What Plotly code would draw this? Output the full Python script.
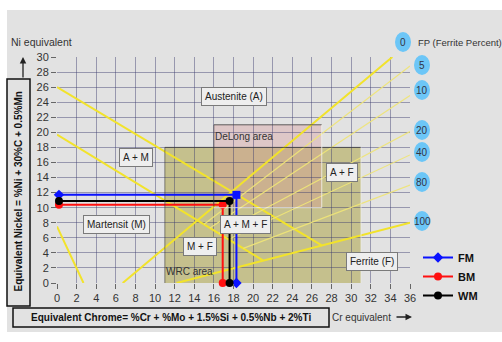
import plotly.graph_objects as go

# ---------------- data ----------------
x_ticks = list(range(0, 37, 2))
y_ticks = list(range(0, 31, 2))

# iso-ferrite lines (FP %)
fp_labels = ["0", "5", "10", "20", "40", "80", "100"]
fp_x0 = [6.7, 15.0, 15.6, 16.5, 17.5, 19.0, 12.2]
fp_y0 = [0.0, 7.8, 7.3, 6.6, 5.8, 4.6, 0.0]
fp_x1 = [34.2, 36.0, 36.0, 36.0, 36.0, 36.0, 36.0]
fp_y1 = [30.0, 28.8, 24.9, 20.1, 17.0, 13.0, 8.0]
fp_label_py = [42, 65, 90, 130, 152, 182, 221]   # label centres (pixels)

# phase boundary lines
b1_x = [0, 27.0]; b1_y = [26.0, 5.0]
b2_x = [0, 21.0]; b2_y = [19.7, 3.0]
b3_x = [0, 2.7];  b3_y = [7.5, 0.0]

# areas
wrc_x = [11, 31]; wrc_y = [0, 18]
delong_x = [16, 27]; delong_y = [10, 21]

# measured series
fm_x = [0.2, 18.3, 18.3]; fm_y = [11.7, 11.7, 0.0]
bm_x = [0.2, 16.9, 16.9]; bm_y = [10.4, 10.4, 0.0]
wm_x = [0.2, 17.6, 17.6]; wm_y = [10.9, 10.9, 0.0]

# region labels
region_text = ["Austenite (A)", "A + M", "A + F", "Martensit (M)", "M + F",
               "A + M + F", "F + M", "Ferrite (F)"]
region_x = [18.05, 8.06, 29.06, 6.07, 14.6, 19.2, -0.6, 32.1]
region_y = [24.8, 16.7, 14.7, 7.7, 4.8, 7.7, 1.7, 2.85]

# ---------------- layout helpers ----------------
L, R, T, B = 57, 92, 57, 59
W, H = 502, 342
PW, PH = W - L - R, H - T - B


def PX(px):
    return (px - L) / PW


def PY(py):
    return (H - B - py) / PH


FONT = "Liberation Sans, Arial, sans-serif"
YEL = "#f2e32b"
YEL_THIN = "rgba(238,228,120,0.95)"

fig = go.Figure()

# boundary lines
for bx, by, w in [(b1_x, b1_y, 2), (b2_x, b2_y, 2), (b3_x, b3_y, 2)]:
    fig.add_trace(go.Scatter(x=bx, y=by, mode="lines", line=dict(color=YEL, width=w),
                             showlegend=False, hoverinfo="skip"))

# ferrite lines
for i, lab in enumerate(fp_labels):
    thick = lab in ("0", "100")
    fig.add_trace(go.Scatter(x=[fp_x0[i], fp_x1[i]], y=[fp_y0[i], fp_y1[i]], mode="lines",
                             line=dict(color=YEL if thick else YEL_THIN, width=2 if thick else 1.2),
                             showlegend=False, hoverinfo="skip"))

# series
fig.add_trace(go.Scatter(x=fm_x, y=fm_y, mode="lines+markers", name="<b>FM</b>",
                         line=dict(color="#0a12ff", width=2),
                         marker=dict(symbol=["diamond", "square", "diamond"], size=8, color="#0a12ff"),
                         cliponaxis=False))
fig.add_trace(go.Scatter(x=bm_x, y=bm_y, mode="lines+markers", name="<b>BM</b>",
                         line=dict(color="#ff1010", width=2),
                         marker=dict(symbol="circle", size=8, color="#ff1010"),
                         cliponaxis=False))
fig.add_trace(go.Scatter(x=wm_x, y=wm_y, mode="lines+markers", name="<b>WM</b>",
                         line=dict(color="#000000", width=2),
                         marker=dict(symbol="circle", size=8, color="#000000"),
                         cliponaxis=False))

shapes = []
# background panel
shapes.append(dict(type="rect", xref="paper", yref="paper", x0=PX(7), x1=PX(502), y0=PY(332), y1=PY(10),
                   fillcolor="#e2e2e2", line=dict(width=0), layer="below"))
# WRC area
shapes.append(dict(type="rect", xref="x", yref="y", x0=wrc_x[0], x1=wrc_x[1], y0=wrc_y[0], y1=wrc_y[1],
                   fillcolor="rgba(180,172,92,0.64)", line=dict(width=0), layer="below"))
shapes.append(dict(type="line", xref="x", yref="y", x0=wrc_x[0], x1=wrc_x[1], y0=wrc_y[1], y1=wrc_y[1],
                   line=dict(color="rgba(60,60,60,0.8)", width=1)))
shapes.append(dict(type="line", xref="x", yref="y", x0=wrc_x[0], x1=wrc_x[0], y0=wrc_y[0], y1=wrc_y[1],
                   line=dict(color="rgba(60,60,60,0.6)", width=1)))
shapes.append(dict(type="line", xref="x", yref="y", x0=wrc_x[1], x1=wrc_x[1], y0=wrc_y[0], y1=wrc_y[1],
                   line=dict(color="rgba(240,240,230,0.7)", width=1)))
# DeLong area
shapes.append(dict(type="rect", xref="x", yref="y", x0=delong_x[0], x1=delong_x[1], y0=delong_y[0], y1=delong_y[1],
                   fillcolor="rgba(215,150,150,0.35)", line=dict(width=0), layer="below"))
shapes.append(dict(type="line", xref="x", yref="y", x0=delong_x[0], x1=delong_x[1], y0=delong_y[1], y1=delong_y[1],
                   line=dict(color="rgba(60,60,60,0.8)", width=1)))
shapes.append(dict(type="line", xref="x", yref="y", x0=delong_x[0], x1=delong_x[0], y0=delong_y[0], y1=delong_y[1],
                   line=dict(color="rgba(60,60,60,0.6)", width=1)))
shapes.append(dict(type="line", xref="x", yref="y", x0=delong_x[1], x1=delong_x[1], y0=delong_y[0], y1=delong_y[1],
                   line=dict(color="rgba(245,245,240,0.8)", width=1)))
shapes.append(dict(type="line", xref="x", yref="y", x0=delong_x[0], x1=delong_x[1], y0=delong_y[0], y1=delong_y[0],
                   line=dict(color="rgba(245,245,240,0.8)", width=1)))
# axis title boxes
shapes.append(dict(type="rect", xref="paper", yref="paper", x0=PX(7), x1=PX(30), y0=PY(306), y1=PY(79),
                   fillcolor="rgba(0,0,0,0)", line=dict(color="#111", width=1.5)))
shapes.append(dict(type="rect", xref="paper", yref="paper", x0=PX(13), x1=PX(329), y0=PY(327), y1=PY(308),
                   fillcolor="rgba(0,0,0,0)", line=dict(color="#111", width=1.5)))

annotations = []
# FP circles
cx_list = [403] + [422] * 6
for i, lab in enumerate(fp_labels):
    cx, cy = cx_list[i], fp_label_py[i]
    shapes.append(dict(type="circle", xref="paper", yref="paper",
                       x0=PX(cx - 8), x1=PX(cx + 8), y0=PY(cy + 10), y1=PY(cy - 10),
                       fillcolor="#6cc6f7", line=dict(width=0)))
    annotations.append(dict(xref="paper", yref="paper", x=PX(cx), y=PY(cy), text=lab, showarrow=False,
                            font=dict(family=FONT, size=10, color="#334"), xanchor="center", yanchor="middle"))

annotations.append(dict(xref="paper", yref="paper", x=PX(416), y=PY(42), text="FP (Ferrite Percent)",
                        showarrow=False, xanchor="left", yanchor="middle",
                        font=dict(family=FONT, size=9.5, color="#333")))
annotations.append(dict(xref="paper", yref="paper", x=PX(9), y=PY(42), text="Ni equivalent",
                        showarrow=False, xanchor="left", yanchor="middle",
                        font=dict(family=FONT, size=10.5, color="#333")))
annotations.append(dict(xref="paper", yref="paper", x=PX(330), y=PY(317), text="Cr equivalent",
                        showarrow=False, xanchor="left", yanchor="middle",
                        font=dict(family=FONT, size=10, color="#333")))
# arrows
annotations.append(dict(xref="paper", yref="paper", x=PX(412), y=PY(317), ax=-17, ay=0, text="",
                        showarrow=True, arrowhead=2, arrowwidth=1.3, arrowsize=1, arrowcolor="#222"))
annotations.append(dict(xref="paper", yref="paper", x=PX(23), y=PY(57), ax=0, ay=22, text="",
                        showarrow=True, arrowhead=2, arrowwidth=1.3, arrowsize=1, arrowcolor="#222"))
# axis titles (boxed)
annotations.append(dict(xref="paper", yref="paper", x=PX(18.5), y=PY(192),
                        text="<b>Equivalent Nickel = %Ni + 30%C + 0.5%Mn</b>", textangle=-90,
                        showarrow=False, xanchor="center", yanchor="middle",
                        font=dict(family=FONT, size=10, color="#111")))
annotations.append(dict(xref="paper", yref="paper", x=PX(171), y=PY(317.5),
                        text="<b>Equivalent Chrome= %Cr + %Mo + 1.5%Si + 0.5%Nb + 2%Ti</b>",
                        showarrow=False, xanchor="center", yanchor="middle",
                        font=dict(family=FONT, size=10, color="#111")))
# area labels
annotations.append(dict(x=13.5, y=1.5, text="WRC area", showarrow=False,
                        font=dict(family=FONT, size=10, color="#333")))
annotations.append(dict(x=19.1, y=19.4, text="DeLong area", showarrow=False,
                        font=dict(family=FONT, size=10, color="#333")))
# region boxes
for t, xx, yy in zip(region_text, region_x, region_y):
    annotations.append(dict(x=xx, y=yy, text=t, showarrow=False,
                            bgcolor="#eeeeee", bordercolor="#7a7a7a", borderwidth=1, borderpad=3,
                            font=dict(family=FONT, size=10, color="#222")))

fig.update_layout(
    width=W, height=H,
    margin=dict(l=L, r=R, t=T, b=B),
    paper_bgcolor="white",
    plot_bgcolor="#9b9bdd",
    font=dict(family=FONT, size=10, color="#333"),
    shapes=shapes,
    annotations=annotations,
    showlegend=True,
    legend=dict(x=PX(418), y=PY(243), xanchor="left", yanchor="top",
                bgcolor="rgba(0,0,0,0)", font=dict(family=FONT, size=11, color="#111"),
                itemwidth=30, tracegroupgap=0),
)
fig.update_xaxes(range=[0, 36], tickvals=x_ticks, ticks="outside", ticklen=5, tickcolor="#666",
                 showgrid=True, gridcolor="rgba(60,60,110,0.45)", gridwidth=1, zeroline=False,
                 showline=False, tickfont=dict(family=FONT, size=11, color="#333"))
fig.update_yaxes(range=[0, 30], tickvals=y_ticks, ticks="outside", ticklen=5, tickcolor="#666",
                 showgrid=True, gridcolor="rgba(60,60,110,0.45)", gridwidth=1, zeroline=False,
                 showline=False, tickfont=dict(family=FONT, size=11, color="#333"))

fig.write_html("out.html", config={"displayModeBar": False},
               post_script="document.body.style.margin='0';")
